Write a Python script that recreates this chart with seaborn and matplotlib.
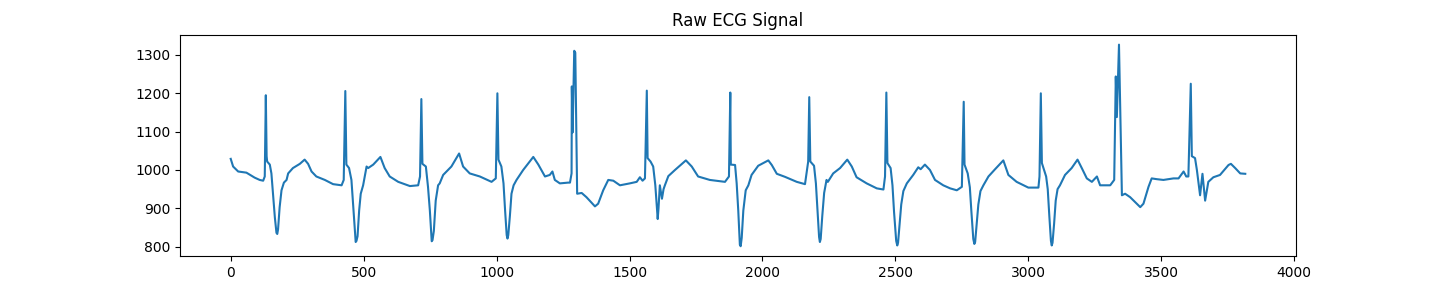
import matplotlib
matplotlib.use("Agg")
import matplotlib.pyplot as plt
import seaborn as sns
import pandas as pd

# sample indices (one line per heartbeat segment)
sample_index = [
    0, 9, 28, 59, 90, 109, 122, 128, 132, 135, 137, 147, 153, 159, 166, 172, 175, 178, 184, 191, 200, 210, 216, 234, 260, 278, 291, 304, 322, 354, 385, 417,
    425, 431, 435, 445, 454, 460, 467, 470, 473, 477, 483, 489, 498, 511, 517, 536, 563, 579, 598, 630, 674, 705, 712,
    717, 721, 734, 742, 749, 756, 759, 764, 771, 780, 786, 799, 830, 859, 874, 899, 937, 981, 997,
    1003, 1007, 1018, 1026, 1032, 1038, 1041, 1044, 1050, 1056, 1064, 1075, 1100, 1138, 1157, 1182, 1200, 1210, 1219, 1238, 1269, 1276, 1282,
    1283, 1286, 1292, 1296, 1303, 1320, 1338, 1370, 1382, 1401, 1420, 1439, 1464, 1501, 1527, 1539, 1549, 1558,
    1565, 1568, 1579, 1589, 1597, 1603, 1606, 1609, 1614, 1622, 1628, 1633, 1646, 1671, 1712, 1734, 1758, 1802, 1859, 1874,
    1879, 1881, 1897, 1903, 1909, 1915, 1918, 1922, 1928, 1937, 1947, 1959, 1984, 2022, 2035, 2054, 2085, 2129, 2160, 2172,
    2176, 2180, 2194, 2201, 2207, 2213, 2216, 2219, 2225, 2232, 2241, 2246, 2266, 2292, 2319, 2336, 2354, 2392, 2430, 2455, 2461,
    2466, 2470, 2482, 2489, 2495, 2503, 2507, 2510, 2516, 2522, 2530, 2543, 2567, 2586, 2595, 2611, 2630, 2649, 2680, 2706, 2731, 2750,
    2757, 2760, 2772, 2780, 2786, 2793, 2797, 2800, 2806, 2812, 2820, 2831, 2850, 2875, 2906, 2925, 2956, 3000, 3038, 3042,
    3047, 3051, 3067, 3073, 3079, 3085, 3088, 3091, 3097, 3103, 3110, 3119, 3138, 3163, 3185, 3201, 3220, 3239, 3258, 3270, 3308, 3323,
    3329, 3333, 3341, 3352, 3364, 3383, 3421, 3433, 3452, 3464, 3483, 3508, 3546, 3565, 3584, 3594, 3602,
    3611, 3615, 3627, 3634, 3646, 3655, 3665, 3677, 3696, 3721, 3753, 3762, 3778, 3797, 3816,
]

# raw ECG amplitude (same layout as sample_index)
ecg_value = [
    1029, 1009, 996, 993, 980, 974, 972, 983, 1195, 1036, 1022, 1014, 991, 938, 876, 836, 833, 845, 903, 947, 967, 974, 991, 1005, 1016, 1027, 1016, 996, 983, 974, 963, 960,
    974, 1206, 1014, 1005, 974, 912, 841, 812, 815, 827, 894, 938, 960, 1009, 1005, 1014, 1034, 1005, 983, 969, 958, 960, 983,
    1185, 1016, 1009, 956, 894, 814, 817, 841, 920, 960, 965, 987, 1009, 1043, 1009, 991, 983, 969, 978,
    1200, 1027, 1009, 965, 894, 830, 821, 830, 880, 938, 960, 974, 1000, 1034, 1014, 983, 987, 996, 974, 965, 967, 967, 991,
    1218, 1098, 1311, 1306, 938, 940, 929, 905, 912, 947, 974, 972, 960, 965, 969, 981, 972, 978,
    1207, 1031, 1022, 1009, 960, 900, 872, 900, 960, 925, 950, 960, 984, 1000, 1025, 1009, 983, 974, 969, 983,
    1202, 1014, 1013, 965, 894, 805, 801, 823, 894, 947, 960, 987, 1011, 1025, 1013, 990, 982, 969, 963, 1022,
    1190, 1022, 1011, 965, 894, 825, 812, 820, 880, 940, 974, 969, 991, 1005, 1027, 1009, 981, 965, 952, 949, 983,
    1202, 1018, 1005, 960, 890, 815, 803, 810, 860, 910, 945, 965, 987, 1007, 1002, 1014, 1000, 974, 960, 952, 947, 956,
    1178, 1014, 991, 955, 890, 820, 807, 812, 860, 910, 945, 960, 983, 1002, 1025, 987, 969, 954, 954, 983,
    1200, 1018, 983, 950, 880, 815, 803, 810, 860, 920, 950, 960, 987, 1005, 1027, 1005, 978, 969, 983, 960, 960, 974,
    1244, 1138, 1327, 934, 938, 929, 903, 912, 956, 978, 976, 974, 978, 978, 996, 983, 983,
    1225, 1036, 1031, 1000, 934, 990, 920, 969, 981, 987, 1013, 1016, 1005, 991, 990,
]

df = pd.DataFrame({"sample": sample_index, "value": ecg_value})

fig, ax = plt.subplots(figsize=(14.4, 2.88), dpi=100)
sns.lineplot(data=df, x="sample", y="value", ax=ax, color="#1f77b4", linewidth=1.5, sort=False)
ax.set_title("Raw ECG Signal")
ax.set_xlabel("")
ax.set_ylabel("")
ax.set_xticks([0, 500, 1000, 1500, 2000, 2500, 3000, 3500, 4000])
ax.set_yticks([800, 900, 1000, 1100, 1200, 1300])
fig.savefig("out.png", dpi=100)
